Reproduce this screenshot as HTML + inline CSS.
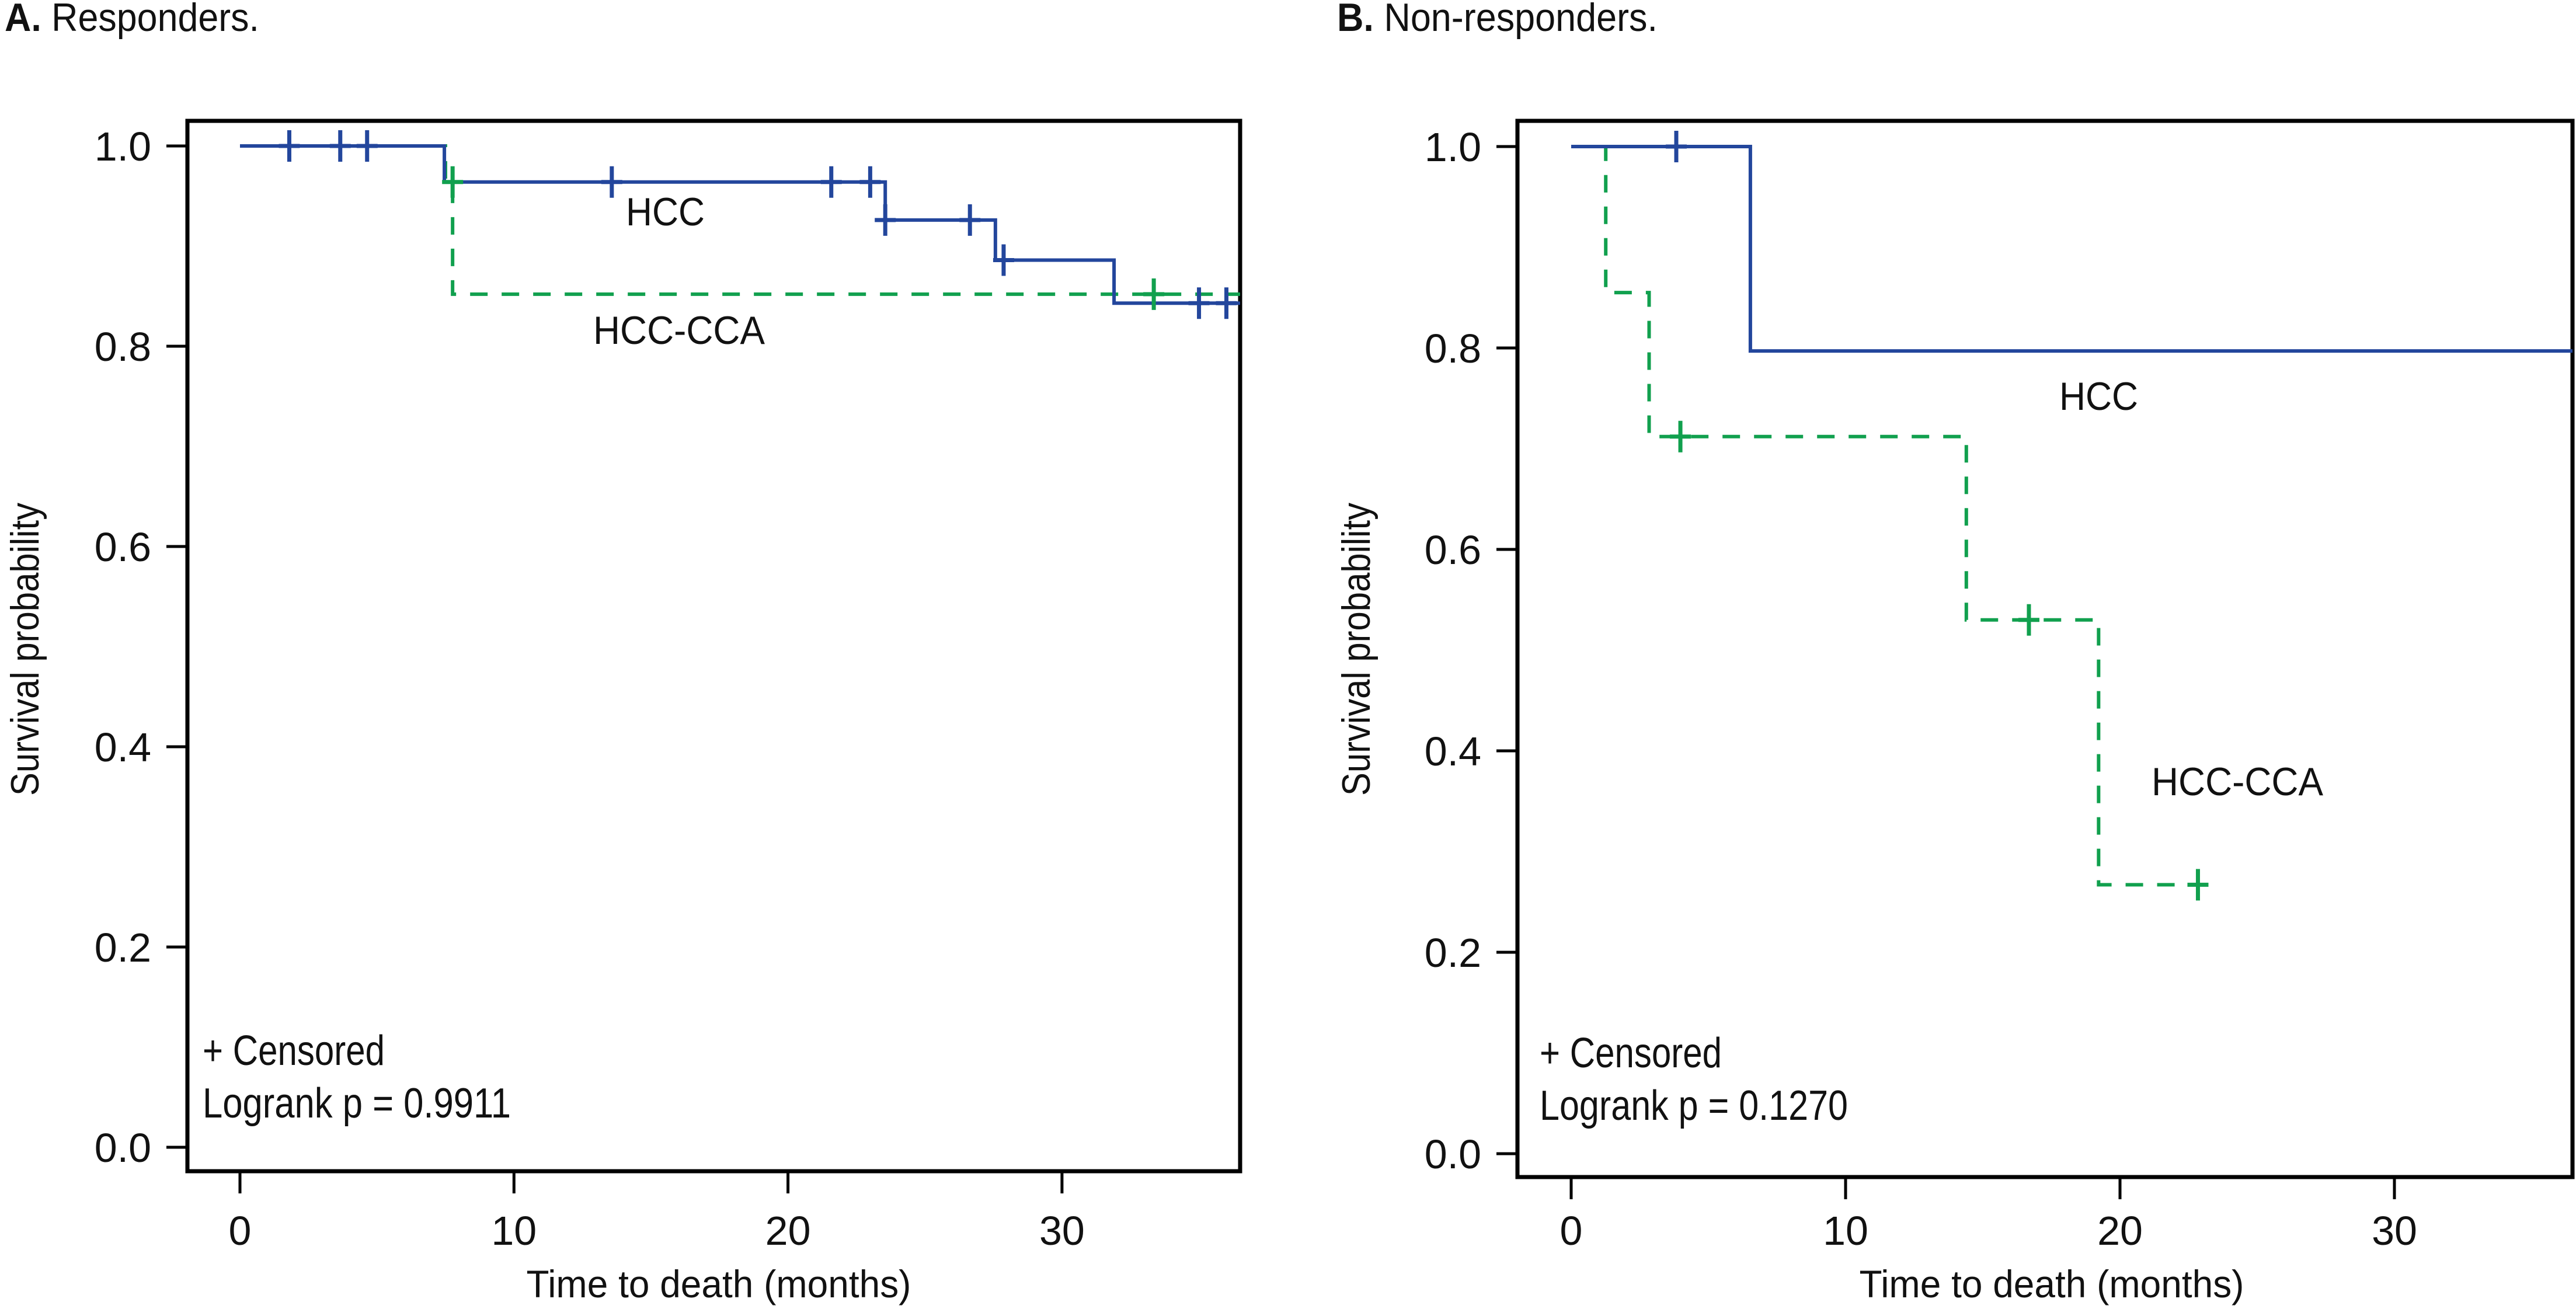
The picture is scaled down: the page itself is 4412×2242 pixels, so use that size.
<!DOCTYPE html>
<html><head><meta charset="utf-8">
<style>
html,body{margin:0;padding:0;background:#fff;}
svg{display:block;}
text{font-family:"Liberation Sans Narrow","Liberation Sans",sans-serif;fill:#111;}
</style></head>
<body>
<svg id="fig" width="4412" height="2242" viewBox="0 0 4412 2242" xmlns="http://www.w3.org/2000/svg">
<text x="8" y="53" font-size="68" textLength="436" lengthAdjust="spacingAndGlyphs"><tspan font-weight="bold">A.</tspan> Responders.</text>
<text x="2290" y="53" font-size="68" textLength="549" lengthAdjust="spacingAndGlyphs"><tspan font-weight="bold">B.</tspan> Non-responders.</text>
</svg>
<script>
// ---- Panel A data (Responders) ----
const xTicks = [0, 10, 20, 30];
const xTickLabels = ["0", "10", "20", "30"];
const yTicks = [0, 0.2, 0.4, 0.6, 0.8, 1.0];
const yTickLabels = ["0.0", "0.2", "0.4", "0.6", "0.8", "1.0"];
const aHccTimes = [0, 7.46, 23.55, 27.57, 31.9, 36.5];
const aHccSurv = [1.0, 0.964, 0.926, 0.886, 0.843, 0.843];
const aHccCensT = [1.8, 3.66, 4.64, 13.57, 21.58, 23.0, 23.55, 26.64, 27.87, 35.0, 36.0];
const aHccCensS = [1.0, 1.0, 1.0, 0.964, 0.964, 0.964, 0.926, 0.926, 0.886, 0.843, 0.843];
const aCcaTimes = [0, 7.5, 7.76, 36.5];
const aCcaSurv = [1.0, 0.964, 0.852, 0.852];
const aCcaCensT = [7.76, 33.35];
const aCcaCensS = [0.964, 0.852];
// ---- Panel B data (Non-responders) ----
const bHccTimes = [0, 6.53, 36.5];
const bHccSurv = [1.0, 0.797, 0.797];
const bHccCensT = [3.83];
const bHccCensS = [1.0];
const bCcaTimes = [0, 1.26, 2.84, 14.4, 19.22, 22.84];
const bCcaSurv = [1.0, 0.855, 0.712, 0.530, 0.267, 0.267];
const bCcaCensT = [3.98, 16.68, 22.84];
const bCcaCensS = [0.712, 0.530, 0.267];

const NS = "http://www.w3.org/2000/svg";
const svg = document.getElementById("fig");
const BLUE = "#23469c", GREEN = "#11a04e";

function mk(tag, attrs, parent) {
  const e = document.createElementNS(NS, tag);
  for (const k in attrs) e.setAttribute(k, attrs[k]);
  (parent || svg).appendChild(e);
  return e;
}

function panel(cfg) {
  const g = mk("g", {});
  
  
  const xs = t => cfg.x0 + (t / 10) * cfg.px10;
  const ys = v => cfg.y0 + (cfg.y1 - cfg.y0) * v;

  const fr = mk("rect", {x: cfg.fl, y: cfg.ft, width: cfg.fr - cfg.fl, height: cfg.fb - cfg.ft, fill: "none", stroke: "#000", "stroke-width": 7}, g);
  
  

  yTicks.forEach((v, i) => {
    const y = ys(v);
    const t = mk("line", {x1: cfg.fl - 36, x2: cfg.fl, y1: y, y2: y, stroke: "#000", "stroke-width": 5}, g);
    
    
    const l = mk("text", {x: cfg.fl - 62, y: y + 25, "font-size": 70, "text-anchor": "end"}, g);
    l.textContent = yTickLabels[i];
    
    
  });
  xTicks.forEach((v, i) => {
    const x = xs(v);
    const t = mk("line", {x1: x, x2: x, y1: cfg.fb, y2: cfg.fb + 38, stroke: "#000", "stroke-width": 5}, g);
    
    
    const l = mk("text", {x: x, y: 2132, "font-size": 70, "text-anchor": "middle"}, g);
    l.textContent = xTickLabels[i];
    
    
  });
  const xt = mk("text", {x: cfg.xTitleX, y: 2222, "font-size": 66, "text-anchor": "middle", textLength: 659, lengthAdjust: "spacingAndGlyphs"}, g);
  xt.textContent = "Time to death (months)";
  
  
  const yt = mk("text", {x: 0, y: 0, "font-size": 68, "text-anchor": "middle", textLength: 502, lengthAdjust: "spacingAndGlyphs", transform: `translate(${cfg.yTitleX},1112) rotate(-90)`}, g);
  yt.textContent = "Survival probability";
  
  

  function steps(times, surv, color, dash, name) {
    let d = `M${xs(times[0])},${ys(surv[0])}`;
    for (let i = 1; i < times.length; i++) {
      d += ` H${Math.min(xs(times[i]), cfg.fr)} V${ys(surv[i])}`;
    }
    const p = mk("path", {d: d, fill: "none", stroke: color, "stroke-width": 6, "stroke-dasharray": dash || "none"}, g);
    
    
  }
  function cens(ts, ss, color, name) {
    ts.forEach((t, i) => {
      const x = xs(t), y = ys(ss[i]);
      const p = mk("path", {d: `M${x - 18},${y} H${x + 18} M${x},${y - 27} V${y + 27}`, stroke: color, "stroke-width": 7, fill: "none"}, g);
      
      
    });
  }
  steps(cfg.ccaT, cfg.ccaS, GREEN, "30 24", "hcc-cca-curve");
  steps(cfg.hccT, cfg.hccS, BLUE, null, "hcc-curve");
  cens(cfg.ccaCT, cfg.ccaCS, GREEN, "hcc-cca-censor-mark");
  cens(cfg.hccCT, cfg.hccCS, BLUE, "hcc-censor-mark");

  const l1 = mk("text", {x: cfg.hccLab[0], y: cfg.hccLab[1], "font-size": 68, textLength: 135, lengthAdjust: "spacingAndGlyphs"}, g);
  l1.textContent = "HCC";
  
  
  const l2 = mk("text", {x: cfg.ccaLab[0], y: cfg.ccaLab[1], "font-size": 68, textLength: 294, lengthAdjust: "spacingAndGlyphs"}, g);
  l2.textContent = "HCC-CCA";
  
  
  const c = mk("text", {x: cfg.noteX, y: cfg.censY, "font-size": 72, textLength: 312, lengthAdjust: "spacingAndGlyphs"}, g);
  c.textContent = "+ Censored";
  
  
  const lr = mk("text", {x: cfg.noteX, y: cfg.censY + 90, "font-size": 72, textLength: 528, lengthAdjust: "spacingAndGlyphs"}, g);
  lr.textContent = cfg.p;
  
  
}

panel({
  name: "panel-a-responders",
  fl: 321, fr: 2124, ft: 207, fb: 2006,
  x0: 411, px10: 469.3, y0: 1965, y1: 250,
  hccT: aHccTimes, hccS: aHccSurv, hccCT: aHccCensT, hccCS: aHccCensS,
  ccaT: aCcaTimes, ccaS: aCcaSurv, ccaCT: aCcaCensT, ccaCS: aCcaCensS,
  hccLab: [1072, 386], ccaLab: [1016, 589],
  noteX: 347, censY: 1824, p: "Logrank p = 0.9911",
  xTitleX: 1231, yTitleX: 66
});
panel({
  name: "panel-b-non-responders",
  fl: 2599, fr: 4406, ft: 207, fb: 2016,
  x0: 2691, px10: 470, y0: 1976, y1: 251,
  hccT: bHccTimes, hccS: bHccSurv, hccCT: bHccCensT, hccCS: bHccCensS,
  ccaT: bCcaTimes, ccaS: bCcaSurv, ccaCT: bCcaCensT, ccaCS: bCcaCensS,
  hccLab: [3527, 702], ccaLab: [3685, 1362],
  noteX: 2637, censY: 1828, p: "Logrank p = 0.1270",
  xTitleX: 3514, yTitleX: 2346
});
</script>
</body></html>
